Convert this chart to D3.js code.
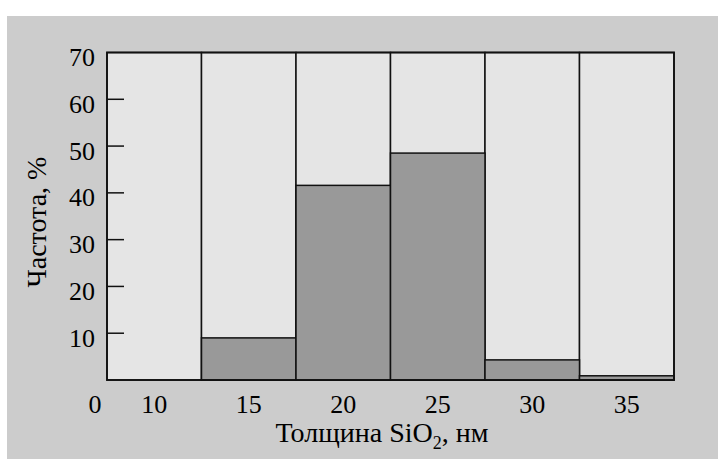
<!DOCTYPE html>
<html>
<head>
<meta charset="utf-8">
<script src="https://cdn.jsdelivr.net/npm/d3@7"></script>
<style>
  body { margin: 0; background: #fff; }
</style>
</head>
<body>
<div id="chart"></div>
<script>
// histogram of SiO2 thickness
const bins = ["10", "15", "20", "25", "30", "35"];
const freq = [0, 9.0, 41.6, 48.5, 4.3, 0.9];
const yTicks = [10, 20, 30, 40, 50, 60, 70];

const FONT = "'Liberation Serif', Tinos, 'Times New Roman', 'DejaVu Serif', serif";
const W = 718, H = 459;
const m = { left: 107, right: 44, top: 52.5, bottom: 79 };

const svg = d3.select('#chart').append('svg')
    .attr('width', W)
    .attr('height', H)
    .attr('font-family', FONT);

// outer grey panel
svg.append('rect')
    .attr('x', 7).attr('y', 16)
    .attr('width', W - 7).attr('height', H - 16)
    .attr('fill', '#cccccc');

const x = d3.scaleBand()
    .domain(bins)
    .range([m.left, W - m.right])
    .padding(0);

const y = d3.scaleLinear()
    .domain([0, 70])
    .range([H - m.bottom, m.top]);

// bin backgrounds
svg.append('g').selectAll('rect')
    .data(bins)
    .join('rect')
    .attr('x', d => x(d))
    .attr('y', y(70))
    .attr('width', x.bandwidth())
    .attr('height', y(0) - y(70))
    .attr('fill', '#e5e5e5')
    .attr('stroke', '#111')
    .attr('stroke-width', 1.5);

// bars
svg.append('g').selectAll('rect')
    .data(bins.map((b, i) => ({ b, v: freq[i] })).filter(d => d.v > 0))
    .join('rect')
    .attr('x', d => x(d.b))
    .attr('y', d => y(d.v))
    .attr('width', x.bandwidth())
    .attr('height', d => y(0) - y(d.v))
    .attr('fill', '#999999')
    .attr('stroke', '#111')
    .attr('stroke-width', 1.5);

// frame
svg.append('rect')
    .attr('x', m.left).attr('y', m.top)
    .attr('width', W - m.left - m.right)
    .attr('height', y(0) - m.top)
    .attr('fill', 'none')
    .attr('stroke', '#111')
    .attr('stroke-width', 1.8);

// y ticks (inward) + labels
const yAxis = svg.append('g');
yAxis.selectAll('line')
    .data(yTicks.filter(t => t < 70))
    .join('line')
    .attr('x1', m.left).attr('x2', m.left + 17)
    .attr('y1', d => y(d)).attr('y2', d => y(d))
    .attr('stroke', '#111')
    .attr('stroke-width', 1.5);
yAxis.selectAll('text')
    .data(yTicks)
    .join('text')
    .attr('x', m.left - 12)
    .attr('y', d => y(d) + 13.5)
    .attr('text-anchor', 'end')
    .attr('font-size', 26)
    .text(d => d);

// x labels
const xLab = svg.append('g').attr('font-size', 26);
xLab.selectAll('text')
    .data(bins)
    .join('text')
    .attr('x', d => x(d) + x.bandwidth() / 2)
    .attr('y', y(0) + 33)
    .attr('text-anchor', 'middle')
    .text(d => d);
xLab.append('text')
    .attr('x', m.left - 12)
    .attr('y', y(0) + 33)
    .attr('text-anchor', 'middle')
    .text('0');

// axis titles
const xt = svg.append('text')
    .attr('x', 382)
    .attr('y', 442)
    .attr('text-anchor', 'middle')
    .attr('font-size', 28);
xt.append('tspan').text('Толщина SiO');
xt.append('tspan').attr('font-size', 18).attr('dy', 7).text('2');
xt.append('tspan').attr('dy', -7).text(', нм');

svg.append('text')
    .attr('transform', 'translate(46,222) rotate(-90)')
    .attr('text-anchor', 'middle')
    .attr('font-size', 28)
    .text('Частота, %');
</script>
</body>
</html>
